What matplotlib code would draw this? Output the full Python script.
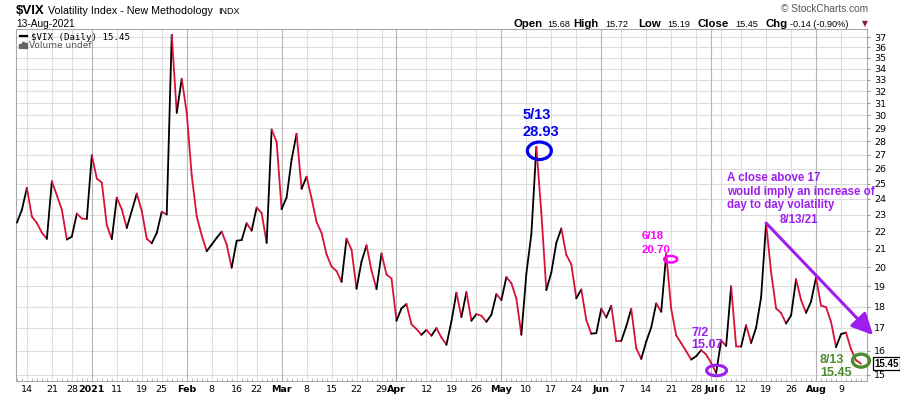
import matplotlib
matplotlib.use('Agg')
import matplotlib.pyplot as plt
import numpy as np
import pandas as pd
from matplotlib.collections import LineCollection
from matplotlib.patches import Ellipse, Rectangle

# trading days from 10-Dec-2020 to 13-Aug-2021
holidays = ['2020-12-25', '2021-01-01', '2021-01-18', '2021-02-15',
            '2021-04-02', '2021-05-31', '2021-07-05']
dates = pd.bdate_range('2020-12-10', '2021-08-13').drop(pd.to_datetime(holidays))

# daily VIX closes
dec = [22.52, 23.31, 24.72, 22.89, 22.50, 21.93, 21.57, 25.16, 24.23, 23.31, 21.53,
       21.70, 23.08, 22.77, 22.75]
jan = [26.97, 25.34, 25.07, 22.37, 21.56, 24.08, 23.33, 22.21, 23.25, 24.34, 23.24,
       21.58, 21.32, 21.91, 23.19, 23.02, 37.21, 30.21, 33.09]
feb = [30.24, 25.56, 22.91, 21.77, 20.87, 21.24, 21.63, 21.99, 21.25, 19.97, 21.46,
       21.50, 22.49, 22.05, 23.45, 23.11, 21.34, 28.89, 27.95]
mar = [23.35, 24.10, 26.67, 28.57, 24.66, 25.47, 24.03, 22.56, 21.91, 20.69, 20.03,
       19.79, 19.23, 21.58, 20.95, 18.88, 20.30, 21.20, 19.81, 18.86, 20.74, 19.61, 19.40]
apr = [17.33, 17.91, 18.12, 17.16, 16.95, 16.69, 16.91, 16.65, 16.99, 16.57, 16.25,
       17.30, 18.68, 17.50, 18.71, 17.33, 17.64, 17.56, 17.28, 17.61, 18.61]
may = [18.31, 19.48, 19.15, 18.39, 16.69, 19.66, 21.84, 27.59, 23.13, 18.81, 19.72,
       21.34, 22.18, 20.67, 20.15, 18.40, 18.84, 17.36, 16.74, 16.76]
jun = [17.90, 17.48, 18.04, 16.42, 16.42, 17.07, 17.89, 16.10, 15.65, 16.39, 17.02,
       18.15, 17.75, 20.70, 17.89, 16.66, 16.32, 15.97, 15.62, 15.76, 16.02, 15.83]
jul = [15.48, 15.07, 16.44, 16.20, 19.00, 16.18, 16.17, 17.12, 16.33, 17.01, 18.45,
       22.50, 19.73, 17.91, 17.69, 17.20, 17.58, 19.36, 18.31, 17.70, 18.24]
aug = [19.46, 18.04, 17.97, 17.28, 16.15, 16.72, 16.79, 16.06, 15.59, 15.45]
closes = dec + jan + feb + mar + apr + may + jun + jul + aug
assert len(closes) == len(dates)

# last bar
day_open, day_high, day_low = 15.68, 15.72, 15.19

tick_dates = ['2020-12-14', '2020-12-21', '2020-12-28', '2021-01-04', '2021-01-11',
              '2021-01-19', '2021-01-25', '2021-02-01', '2021-02-08', '2021-02-16',
              '2021-02-22', '2021-03-01', '2021-03-08', '2021-03-15', '2021-03-22',
              '2021-03-29', '2021-04-01', '2021-04-12', '2021-04-19', '2021-04-26',
              '2021-05-03', '2021-05-10', '2021-05-17', '2021-05-24', '2021-06-01',
              '2021-06-07', '2021-06-14', '2021-06-21', '2021-06-28', '2021-07-01',
              '2021-07-06', '2021-07-12', '2021-07-19', '2021-07-26', '2021-08-02',
              '2021-08-09']
tick_labels = ['14', '21', '28', '2021', '11', '19', '25', 'Feb', '8', '16', '22', 'Mar',
               '8', '15', '22', '29', 'Apr', '12', '19', '26', 'May', '10', '17', '24',
               'Jun', '7', '14', '21', '28', 'Jul', '6', '12', '19', '26', 'Aug', '9']
month_labels = ['2021', 'Feb', 'Mar', 'Apr', 'May', 'Jun', 'Jul', 'Aug']
y_ticks = list(range(15, 38))

W, H = 900, 396
pos = {d.strftime('%Y-%m-%d'): i for i, d in enumerate(dates)}

RED = '#d8103a'
PURPLE = '#9d1ff0'
BLUE = '#0000f0'
MAGENTA = '#ff00ff'
GREEN = '#4f8b2e'

fig = plt.figure(figsize=(W / 100, H / 100), dpi=100)
ax = fig.add_axes([16 / W, 1 - 381 / H, 851 / W, 352 / H])

x = np.arange(len(closes))
y = np.array(closes)
pts = np.column_stack([x, y])
segs = np.stack([pts[:-1], pts[1:]], axis=1)
cols = np.where(y[1:] > y[:-1], 'black', RED)
ax.add_collection(LineCollection(segs, colors=cols, linewidths=1.3, zorder=3,
                                 capstyle='round', joinstyle='round'))

ax.set_yscale('log')
ax.set_xlim(-0.18, 170.2)
ax.set_ylim(14.75, 37.8)

# y axis on the right
ax.yaxis.tick_right()
ax.set_yticks(y_ticks, [str(t) for t in y_ticks])
ax.set_yticks([], minor=True)
ax.tick_params(axis='y', length=2, pad=3, labelsize=6.8, color='#999999')
for t in y_ticks:
    ax.axhline(t, color='#dddddd', lw=0.8, zorder=1)

# x axis
tick_pos = [pos[d] for d in tick_dates]
ax.set_xticks(tick_pos, tick_labels)
ax.set_xticks(x, minor=True)
ax.tick_params(axis='x', which='major', length=0, pad=3, labelsize=6.8)
ax.tick_params(axis='x', which='minor', direction='in', length=2, width=0.6,
               color='#aaaaaa')
for lab in ax.get_xticklabels():
    if lab.get_text() in month_labels:
        lab.set_fontweight('bold')
for p, lab in zip(tick_pos, tick_labels):
    ax.axvline(p, color='#b4b4b4' if lab in month_labels else '#dddddd', lw=0.8, zorder=1)

for s in ax.spines.values():
    s.set_color('#a8a8a8')
    s.set_linewidth(0.8)

# header
def fx(px):
    return px / W

def fy(py):
    return 1 - py / H

fig.text(fx(16), fy(14), '$VIX', fontsize=9.5, fontweight='bold', family='Liberation Sans',
         va='baseline')
fig.text(fx(48), fy(14), 'Volatility Index - New Methodology', fontsize=7.7,
         family='Liberation Sans', va='baseline')
fig.text(fx(218), fy(14), 'INDX', fontsize=6.5, family='Liberation Sans', va='baseline')
fig.text(fx(16), fy(27), dates[-1].strftime('%d-%b-%Y'), fontsize=7.3,
         family='Liberation Sans', va='baseline')
fig.text(fx(868), fy(12), '\u00a9 StockCharts.com', fontsize=7.3, family='Liberation Sans',
         color='#555555', ha='right', va='baseline')

chg = closes[-1] - closes[-2]
pct = chg / closes[-2] * 100
pieces = [(513, 'Open', True), (547, f'{day_open:.2f}', False),
          (573, 'High', True), (605, f'{day_high:.2f}', False),
          (638, 'Low', True), (667, f'{day_low:.2f}', False),
          (698, 'Close', True), (735, f'{closes[-1]:.2f}', False),
          (766, 'Chg', True), (790, f'{chg:.2f} ({pct:.2f}%)', False)]
for px, s, b in pieces:
    fig.text(fx(px), fy(27), s, fontsize=8.2 if b else 6.6, family='Liberation Sans',
             fontweight='bold' if b else 'normal', va='baseline')
fig.text(fx(865), fy(24), '\u25bc', fontsize=5.5, color='#8b1c32', ha='center', va='center')

# legend inside the plot
fig.add_artist(plt.Line2D([fx(20), fx(27)], [fy(36), fy(36)], color='black', lw=1.6))
fig.text(fx(31), fy(40.5), f'$VIX (Daily) {closes[-1]:.2f}', fontsize=6.6,
         family='DejaVu Sans Mono', va='baseline')
for k, hgt in enumerate([4, 6, 5]):
    fig.add_artist(Rectangle((fx(19 + 3 * k), fy(48)), 2 / W, hgt / H, color='#666666',
                             transform=fig.transFigure))
fig.text(fx(28.5), fy(48), 'Volume undef', fontsize=6.5, family='DejaVu Sans',
         color='#555555', va='baseline')

# last value box on the axis
ax.annotate(f'{closes[-1]:.2f}', xy=(1, closes[-1]), xycoords=ax.get_yaxis_transform(),
            xytext=(7, 0), textcoords='offset pixels', ha='left', va='center',
            fontsize=7, fontweight='bold', family='Liberation Sans',
            annotation_clip=False, zorder=6,
            bbox=dict(boxstyle='square,pad=0.12', fc='white', ec='black', lw=0.9))

# annotations
def ring(day, dx, dy, w, h, color, lw):
    i = pos[day]
    px, py = ax.transData.transform((i, closes[i]))
    cx, cy = fig.transFigure.inverted().transform((px + dx, py + dy))
    fig.add_artist(Ellipse((cx, cy), w / W, h / H, transform=fig.transFigure,
                           fill=False, ec=color, lw=lw, zorder=5))

def note(day, text, dx, dy, color, size, ls=1.1):
    # dy puts the baseline of the last line
    i = pos[day]
    ax.annotate(text, xy=(i, closes[i]), xytext=(dx, dy), textcoords='offset pixels',
                ha='left', va='baseline', fontsize=size, fontweight='bold', color=color,
                family='Liberation Sans', linespacing=ls, annotation_clip=False, zorder=6)

note('2021-05-12', '5/13\n28.93', -14, 11, BLUE, 10.5, 1.23)
ring('2021-05-12', 3, -4, 24, 17.5, BLUE, 2.3)

note('2021-06-18', '6/18\n20.70', -25, 1, MAGENTA, 8.2, 1.5)
ring('2021-06-18', 4.5, -5, 13, 6.5, MAGENTA, 1.8)

note('2021-07-02', '7/2\n15.07', -25, 25, PURPLE, 9, 0.95)
ring('2021-07-02', 0.4, 2.5, 20, 10.5, PURPLE, 2.2)

note('2021-08-13', '8/13\n15.45', -41, -12, GREEN, 9, 1.03)
ring('2021-08-13', 0, 3, 17, 13, GREEN, 2.4)

note('2021-07-19', 'A close above 17\nwould imply an increase of\nday to day volatility',
     -39, 15, PURPLE, 8.3, 1.17)
note('2021-07-19', '8/13/21', 14, 0, PURPLE, 8.3)

i19 = pos['2021-07-19']
ax.annotate('', xy=(i19, closes[i19]), xytext=(107, -112), textcoords='offset pixels',
            annotation_clip=False, zorder=6,
            arrowprops=dict(arrowstyle='<|-,head_length=0.65,head_width=0.32',
                            mutation_scale=20, color=PURPLE, lw=2.2,
                            shrinkA=0, shrinkB=0))

fig.savefig('out.png', dpi=100)
